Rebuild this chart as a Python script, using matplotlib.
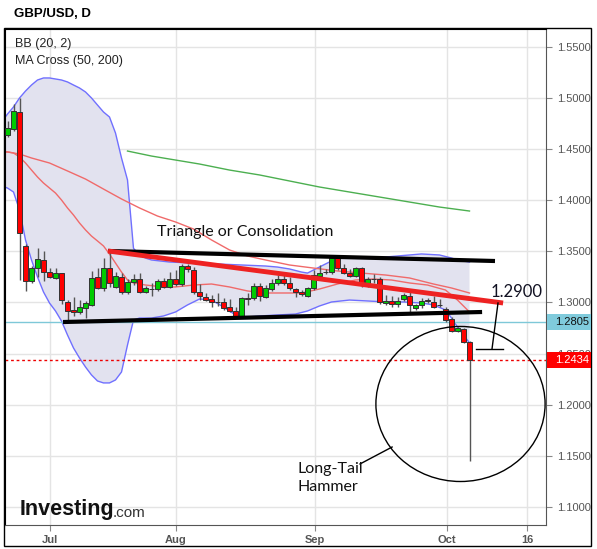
import matplotlib
matplotlib.use('Agg')
import matplotlib.pyplot as plt
from matplotlib.patches import Rectangle, Ellipse
import numpy as np

# ---------------- data (trading-day index, 0 = 1 Jul) ----------------
day_index = list(range(-7, 71))
opens = [1.464, 1.4695, 1.486, 1.3556, 1.3213, 1.3335, 1.342, 1.330, 1.3243, 1.3286,
         1.3008, 1.2927, 1.2904, 1.2943, 1.298, 1.3247, 1.314, 1.3335, 1.3155, 1.3247,
         1.3106, 1.3198, 1.3227, 1.3106, 1.3132, 1.3129, 1.3213, 1.3155, 1.3227, 1.3178,
         1.3357, 1.332, 1.310, 1.305, 1.3034, 1.300, 1.3002, 1.2953, 1.2917, 1.2871,
         1.3043, 1.3041, 1.3165, 1.3051, 1.3129, 1.3188, 1.3227, 1.3194, 1.313, 1.3106,
         1.3067, 1.314, 1.3263, 1.3295, 1.3295, 1.3432, 1.3335, 1.3292, 1.3263, 1.3335,
         1.3188, 1.3228, 1.3227, 1.2992, 1.3018, 1.2982, 1.3031, 1.3063, 1.2943, 1.2975,
         1.302, 1.3008, 1.2972, 1.2934, 1.2836, 1.2724, 1.2738, 1.2611]
highs = [1.478, 1.494, 1.500, 1.357, 1.336, 1.353, 1.350, 1.334, 1.3335, 1.329,
         1.302, 1.3057, 1.3025, 1.301, 1.331, 1.3335, 1.344, 1.3497, 1.330, 1.3286,
         1.323, 1.328, 1.3286, 1.316, 1.319, 1.323, 1.324, 1.330, 1.332, 1.338,
         1.338, 1.335, 1.318, 1.309, 1.307, 1.3096, 1.304, 1.303, 1.296, 1.305,
         1.3096, 1.3194, 1.3194, 1.317, 1.323, 1.327, 1.3276, 1.325, 1.3145, 1.312,
         1.3155, 1.332, 1.3367, 1.333, 1.3448, 1.3448, 1.3377, 1.333, 1.335, 1.3345,
         1.3253, 1.328, 1.325, 1.307, 1.306, 1.3055, 1.3096, 1.3106, 1.299, 1.304,
         1.304, 1.306, 1.303, 1.296, 1.286, 1.2763, 1.2755, 1.2627]
lows = [1.462, 1.468, 1.322, 1.3116, 1.319, 1.325, 1.321, 1.324, 1.323, 1.299,
        1.281, 1.287, 1.2885, 1.285, 1.297, 1.313, 1.3116, 1.3155, 1.314, 1.308,
        1.308, 1.317, 1.309, 1.309, 1.306, 1.311, 1.314, 1.314, 1.316, 1.316,
        1.330, 1.308, 1.3025, 1.301, 1.296, 1.2966, 1.2927, 1.291, 1.286, 1.286,
        1.2976, 1.3025, 1.3015, 1.304, 1.3115, 1.3175, 1.317, 1.312, 1.3057, 1.3064,
        1.3057, 1.3125, 1.3245, 1.328, 1.328, 1.332, 1.3275, 1.325, 1.325, 1.3155,
        1.3155, 1.319, 1.299, 1.2975, 1.2953, 1.296, 1.3015, 1.291, 1.2927, 1.2943,
        1.2995, 1.2943, 1.2953, 1.281, 1.2714, 1.271, 1.260, 1.1452]
closes = [1.471, 1.4874, 1.368, 1.3213, 1.3335, 1.3422, 1.330, 1.325, 1.3286, 1.302,
          1.292, 1.2904, 1.2954, 1.2992, 1.3237, 1.314, 1.3335, 1.3188, 1.326, 1.3106,
          1.3204, 1.3227, 1.3106, 1.314, 1.3128, 1.3213, 1.3155, 1.3227, 1.3178, 1.3357,
          1.3325, 1.310, 1.3067, 1.3025, 1.3002, 1.3008, 1.295, 1.292, 1.2871, 1.304,
          1.3039, 1.3165, 1.3067, 1.314, 1.3194, 1.3227, 1.3188, 1.314, 1.310, 1.3083,
          1.314, 1.3269, 1.3292, 1.3301, 1.3432, 1.3335, 1.3292, 1.3263, 1.3335, 1.3171,
          1.3227, 1.3232, 1.300, 1.3018, 1.2982, 1.3018, 1.3073, 1.2975, 1.2975, 1.3018,
          1.3016, 1.296, 1.2978, 1.283, 1.2724, 1.2747, 1.2611, 1.2434]

# Bollinger band (20, 2)
bb_up_idx = [-7.5, -7, -6, -5, -4, -3, -2, -1, 0, 1, 2, 3, 4, 5, 6, 7, 8, 9, 10, 11, 12, 13,
             14, 15, 16, 17, 20, 24, 28, 32, 36, 38, 40, 42, 43, 44, 46, 48, 50, 54, 58, 62,
             65, 67, 68, 70]
bb_upper = [1.4805, 1.4844, 1.4913, 1.5001, 1.5069, 1.5128, 1.5177, 1.5197, 1.5197, 1.5187,
            1.5177, 1.5158, 1.5128, 1.5099, 1.5060, 1.5001, 1.4932, 1.4864, 1.4815, 1.4658,
            1.4414, 1.4199, 1.3530, 1.3465, 1.3435, 1.3416, 1.3396, 1.3386, 1.3377, 1.3367,
            1.3357, 1.3347, 1.3328, 1.3298, 1.3288, 1.3318, 1.3377, 1.3435, 1.3445, 1.3435,
            1.3455, 1.3475, 1.3465, 1.3435, 1.3416, 1.3396]
bb_low_idx = [-7.5, -7, -6, -5, -4, -3, -2, -1, 0, 1, 2, 3, 4, 5, 6, 7, 8, 9, 10, 11, 12, 13,
              14, 15, 17, 19, 21, 23, 25, 27, 29, 31, 33, 35, 38, 41, 43, 45, 47, 50, 53, 56,
              59, 62, 64, 66, 67, 68, 69, 70]
bb_lower = [1.4130, 1.4120, 1.4081, 1.3905, 1.3612, 1.3416, 1.3250, 1.3103, 1.2995, 1.2917,
            1.2819, 1.2682, 1.2555, 1.2457, 1.2369, 1.2291, 1.2232, 1.2213, 1.2213, 1.2242,
            1.2320, 1.2584, 1.2829, 1.2848, 1.2848, 1.2868, 1.2907, 1.2976, 1.3034, 1.3024,
            1.2956, 1.2878, 1.2858, 1.2868, 1.2878, 1.2887, 1.2917, 1.2966, 1.3005, 1.3024,
            1.3015, 1.3005, 1.3005, 1.2995, 1.2976, 1.2927, 1.2848, 1.2760, 1.2682, 1.2604]
bb_mid_idx = [-7.5, -7, -6, -5, -4, -3, -2, -1, 0, 1, 2, 3, 4, 5, 6, 7, 8, 9, 10, 11, 12, 13,
              14, 16, 19, 21, 24, 27, 30, 33, 36, 39, 42, 45, 48, 51, 54, 57, 60, 63, 66, 68, 70]
bb_mid = [1.4473, 1.4473, 1.4463, 1.4424, 1.4365, 1.4296, 1.4228, 1.4169, 1.4120, 1.4071,
          1.4003, 1.3925, 1.3856, 1.3778, 1.3710, 1.3650, 1.3602, 1.3553, 1.3474, 1.3386,
          1.3298, 1.3220, 1.3191, 1.3171, 1.3152, 1.3152, 1.3171, 1.3181, 1.3152, 1.3113,
          1.3093, 1.3093, 1.3093, 1.3132, 1.3181, 1.3220, 1.3230, 1.3220, 1.3191, 1.3171,
          1.3122, 1.3024, 1.2907]

# MA cross (50, 200)
ma50_idx = [-7.5, -7, -5, -3, 0, 3, 6, 9, 12, 15, 18, 21, 24, 27, 30, 33, 36, 40, 44, 48,
            52, 56, 60, 64, 67, 70]
ma50 = [1.4473, 1.4473, 1.4453, 1.4414, 1.4365, 1.4287, 1.4208, 1.4110, 1.4013, 1.3925,
        1.3846, 1.3788, 1.3719, 1.3612, 1.3514, 1.3455, 1.3416, 1.3367, 1.3337, 1.3308,
        1.3288, 1.3269, 1.3240, 1.3181, 1.3142, 1.3093]
ma200_idx = [13, 17, 21, 25, 30, 35, 40, 45, 50, 55, 60, 65, 70]
ma200 = [1.4482, 1.4433, 1.4394, 1.4355, 1.4296, 1.4248, 1.4189, 1.4130, 1.4081, 1.4032,
         1.3983, 1.3934, 1.3895]

# drawn annotations (index, price)
top_line = ([9.75, 74.25], [1.3504, 1.3406])
bottom_line = ([2.25, 72.1], [1.2809, 1.2907])
red_trend = ([9.75, 75.6], [1.3504, 1.2995])
callout_slant = ([74.75, 73.75], [1.2995, 1.2545])
callout_flat = ([71.1, 75.6], [1.2545, 1.2545])
hammer_ptr = ([51.75, 57.1], [1.1420, 1.1586])
circle_center = (68.5, 1.2007)
circle_size = (28.2, 0.1517)

last_close = 1.2434
level_line = 1.2805
target_label = "1.2900"

x_tick_pos = [0, 21, 44.25, 66.25, 79.6]
x_tick_labels = ["Jul", "Aug", "Sep", "Oct", "16"]
y_ticks = [1.10, 1.15, 1.20, 1.25, 1.30, 1.35, 1.40, 1.45, 1.50, 1.55]

# ---------------- figure ----------------
W, H = 597, 549
fig = plt.figure(figsize=(W / 100, H / 100), dpi=100)
fig.patch.set_facecolor('white')
ax = fig.add_axes([5 / W, 1 - 525 / H, 541 / W, 496 / H])
ax.set_xlim(-7.4167, 82.75)
ax.set_ylim(1.08229, 1.56761)

AX_FONT = 'Liberation Sans'
ax.set_yticks(y_ticks)
ax.set_yticklabels([f"{v:.4f}" for v in y_ticks], fontsize=8, color='#555555', family=AX_FONT)
ax.set_xticks(x_tick_pos)
ax.set_xticklabels(x_tick_labels, fontsize=8, color='#555555', fontweight='bold', family=AX_FONT)
ax.yaxis.tick_right()
ax.tick_params(axis='y', direction='out', length=4, pad=4, color='#888888')
ax.tick_params(axis='x', direction='out', length=4, pad=3, color='#888888')
ax.grid(True, color='#e4e4e4', lw=1)
ax.set_axisbelow(True)
for s in ['left', 'top']:
    ax.spines[s].set_color('black')
for s in ['right', 'bottom']:
    ax.spines[s].set_color('#555555')

# Bollinger band
poly_x = list(bb_up_idx) + list(bb_low_idx[::-1])
poly_y = list(bb_upper) + list(bb_lower[::-1])
ax.fill(poly_x, poly_y, color='#e2e2ef', zorder=1, lw=0)
ax.plot(bb_up_idx, bb_upper, color='#7070ff', lw=1, zorder=2)
ax.plot(bb_low_idx, bb_lower, color='#7070ff', lw=1, zorder=2)
ax.plot(bb_mid_idx, bb_mid, color='#f06a6a', lw=1, zorder=2)
ax.plot(ma50_idx, ma50, color='#f06a6a', lw=1, zorder=2)
ax.plot(ma200_idx, ma200, color='#4caf50', lw=1, zorder=2)

# horizontal levels
ax.axhline(level_line, color='#7ec8d8', lw=1, zorder=2)
ax.axhline(last_close, color='#ee0000', lw=1, ls=(0, (2, 2)), zorder=2)

# candles
idx = np.array(day_index)
o = np.array(opens); h = np.array(highs); l = np.array(lows); c = np.array(closes)
up = c >= o
colors = np.where(up, '#00cc00', '#ff0000')
ax.vlines(idx, l, h, color='#555555', lw=1, zorder=4)
heights = np.maximum(np.abs(c - o), 0.0004)
ax.bar(idx, heights, bottom=np.minimum(o, c), width=0.72, color=colors,
       edgecolor='#333333', lw=0.7, zorder=5)

# drawings
ax.plot(*top_line, color='black', lw=3, zorder=6, solid_capstyle='butt')
ax.plot(*bottom_line, color='black', lw=3, zorder=6, solid_capstyle='butt')
ax.plot(*red_trend, color='#ee2222', lw=3.5, zorder=7, solid_capstyle='butt')
ax.plot(*callout_slant, color='black', lw=1, zorder=7)
ax.plot(*callout_flat, color='black', lw=1, zorder=7)
ax.plot(*hammer_ptr, color='black', lw=1, zorder=7)
ax.add_patch(Ellipse(circle_center, circle_size[0], circle_size[1], fill=False,
                     ec='black', lw=1, zorder=7, clip_on=False))

TXT_FONT = 'Lato'
ax.text(17.9, 1.369, "Triangle or Consolidation", fontsize=11.5, family=TXT_FONT,
        color='#111111', va='center', ha='left', zorder=8)
ax.text(73.5, 1.3020, target_label, fontsize=12, family=TXT_FONT, color='#111122',
        va='bottom', ha='left', zorder=8, clip_on=False)
ax.text(41.25, 1.1285, "Long-Tail\nHammer", fontsize=11.5, family=TXT_FONT, color='#111111',
        va='center', ha='left', linespacing=1.35, zorder=8)

# right-side price boxes
def price_box(price, text, fc, tc):
    y_disp = ax.transData.transform((0, price))[1]
    fig.add_artist(Rectangle((547 / W, (y_disp - 8) / H), 44 / W, 16 / H,
                             transform=fig.transFigure, fc=fc, ec='none', zorder=10))
    fig.text(555 / W, y_disp / H, text, fontsize=8, color=tc, family=AX_FONT,
             va='center', ha='left', zorder=11)

price_box(level_line, f"{level_line:.4f}", '#80cbdc', '#111111')
price_box(last_close, f"{last_close:.4f}", '#ff0000', 'white')

# outer frame
fig.add_artist(Rectangle((4 / W, 1 - 546 / H), 587 / W, 518 / H, fill=False, ec='black',
                         lw=1, transform=fig.transFigure))

# header texts
fig.text(14 / W, 1 - 14 / H, "GBP/USD, D", fontsize=9.5, fontweight='bold',
         family=AX_FONT, va='center', ha='left')
fig.text(15 / W, 1 - 44 / H, "BB (20, 2)", fontsize=9, family=AX_FONT, color='#222222',
         va='center', ha='left')
fig.text(15 / W, 1 - 61 / H, "MA Cross (50, 200)", fontsize=9, family=AX_FONT,
         color='#222222', va='center', ha='left')

# logo
logo = fig.text(20 / W, 1 - 515 / H, "Investing", fontsize=15.5, fontweight='bold',
                family=AX_FONT, color='#111111', va='baseline', ha='left')
ax.annotate(".com", xy=(1, 0), xycoords=logo, xytext=(-1.5, 0), textcoords='offset points',
            fontsize=11, family=AX_FONT, color='#333333', va='bottom', ha='left',
            annotation_clip=False)

fig.savefig('out.png', dpi=100)
